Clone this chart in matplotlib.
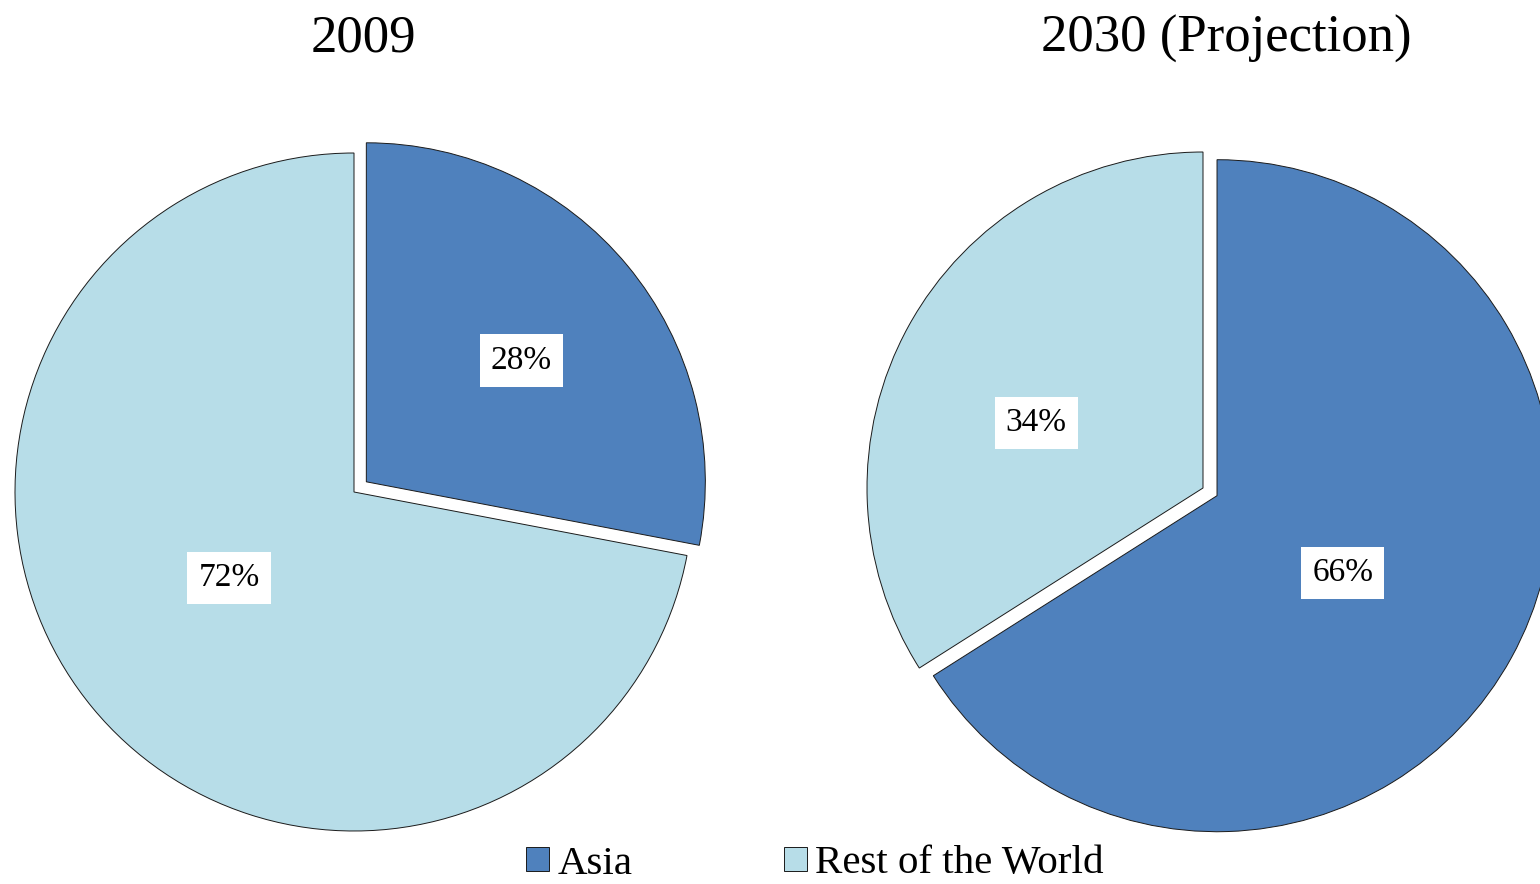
import matplotlib.pyplot as plt
import numpy as np

plt.rcParams['font.family'] = ['Liberation Serif', 'DejaVu Serif']

# data
regions = ['Asia', 'Rest of the World']
share_2009 = [28, 72]
share_2030 = [66, 34]
titles = ['2009', '2030 (Projection)']

colors = ['#4F81BD', '#B7DDE8']

fig = plt.figure(figsize=(15.4, 8.84), dpi=100)
ax = fig.add_axes([0, 0, 1, 1])

# pixel layout: centre, radius, explode (px), label distance / angle shift
pies = [
    dict(vals=share_2009, center=(354, 392), r=339, explode=[16, 0],
         lab=[0.58, 0.447], dang=[-1.6, -5.1], title_x=363),
    dict(vals=share_2030, center=(1203, 396), r=336, explode=[16, 0],
         lab=[0.44, 0.533], dang=[-2.8, 7.5], title_x=1226),
]

wedges_all = []
for p, title in zip(pies, titles):
    wedges, _ = ax.pie(p['vals'], colors=colors, startangle=90, counterclock=False,
                       center=p['center'], radius=p['r'], explode=p['explode'],
                       wedgeprops=dict(edgecolor='#1a1a1a', linewidth=0.7), frame=True)
    wedges_all.append(wedges)
    for w, v, d, da in zip(wedges, p['vals'], p['lab'], p['dang']):
        mid = np.deg2rad((w.theta1 + w.theta2) / 2 + da)
        cx, cy = w.center
        ax.text(cx + d * p['r'] * np.cos(mid), cy + d * p['r'] * np.sin(mid), f'{v}%',
                ha='center', va='center', fontsize=24,
                bbox=dict(facecolor='white', edgecolor='none', boxstyle='square,pad=0.33'))
    ax.text(p['title_x'], 832, title, ha='center', va='baseline', fontsize=38)

ax.set_xlim(0, 1540)
ax.set_ylim(0, 884)
ax.set_aspect('equal')
ax.axis('off')

ax.legend(wedges_all[0], regions, loc='center', bbox_to_anchor=(815 / 1540, 20 / 884),
          ncol=2, frameon=False, fontsize=29.5, handlelength=0.56, handleheight=0.56,
          handletextpad=0.2, columnspacing=3.7, borderpad=0)

fig.savefig('out.png', dpi=100)
